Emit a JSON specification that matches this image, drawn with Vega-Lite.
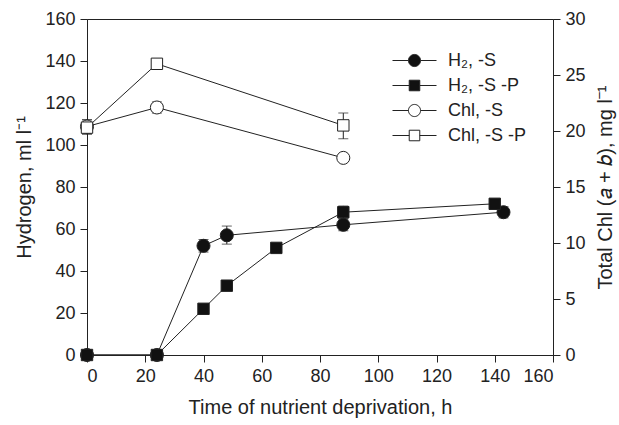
{
  "$schema": "https://vega.github.io/schema/vega-lite/v6.json",
  "width": 466,
  "height": 336,
  "autosize": "none",
  "padding": {"left": 87, "top": 19, "right": 66, "bottom": 70},
  "background": "white",
  "config": {
    "font": "Liberation Sans",
    "view": {"stroke": "#222", "strokeWidth": 1},
    "axis": {
      "grid": false,
      "labelFontSize": 18,
      "titleFontSize": 20,
      "titleFontWeight": "normal",
      "labelColor": "#222",
      "titleColor": "#222",
      "domainColor": "#222",
      "tickColor": "#222",
      "tickSize": 7,
      "labelPadding": 5
    },
    "legend": {
      "labelFontSize": 18,
      "labelColor": "#222",
      "labelFont": "Liberation Sans"
    }
  },
  "datasets": {
    "h2": [
      {"s": "H₂, -S", "t": 0, "v": 0},
      {"s": "H₂, -S", "t": 24, "v": 0},
      {"s": "H₂, -S", "t": 40, "v": 52, "lo": 49, "hi": 55},
      {"s": "H₂, -S", "t": 48, "v": 57, "lo": 52.8, "hi": 61.4},
      {"s": "H₂, -S", "t": 88, "v": 62, "lo": 59.2, "hi": 64.6},
      {"s": "H₂, -S", "t": 143, "v": 68, "lo": 65.3, "hi": 70.6},
      {"s": "H₂, -S -P", "t": 0, "v": 0},
      {"s": "H₂, -S -P", "t": 24, "v": 0},
      {"s": "H₂, -S -P", "t": 40, "v": 22},
      {"s": "H₂, -S -P", "t": 48, "v": 33},
      {"s": "H₂, -S -P", "t": 65, "v": 51},
      {"s": "H₂, -S -P", "t": 88, "v": 68, "lo": 65, "hi": 71},
      {"s": "H₂, -S -P", "t": 140, "v": 72, "lo": 70.5, "hi": 73.5}
    ],
    "chl": [
      {"s": "Chl, -S", "t": 0, "v": 20.4, "lo": 19.8, "hi": 21.0},
      {"s": "Chl, -S", "t": 24, "v": 22.1, "lo": 21.6, "hi": 22.6},
      {"s": "Chl, -S", "t": 88, "v": 17.6},
      {"s": "Chl, -S -P", "t": 0, "v": 20.3, "lo": 19.7, "hi": 21.0},
      {"s": "Chl, -S -P", "t": 24, "v": 26.0, "lo": 25.7, "hi": 26.3},
      {"s": "Chl, -S -P", "t": 88, "v": 20.5, "lo": 19.3, "hi": 21.6}
    ]
  },
  "encoding": {
    "fill": {"field": "s", "type": "nominal",
      "scale": {"domain": ["H₂, -S", "H₂, -S -P", "Chl, -S", "Chl, -S -P"], "range": ["#111111", "#111111", "#ffffff", "#ffffff"]},
      "legend": {
        "title": null,
        "orient": "none",
        "legendX": 316,
        "legendY": 30,
        "padding": 0,
        "symbolSize": 484,
        "labelOffset": 22,
        "rowPadding": 4,
        "symbolStrokeColor": "#222",
        "symbolStrokeWidth": 1,
        "symbolOpacity": 1,
        "encode": {
          "symbols": {
            "update": {
              "shape": {"signal": "test(/-P/, '' + (datum.label || datum.value || '')) ? 'M-2,0L-0.48,0M0.48,0L2,0M-0.48,-0.48L0.48,-0.48L0.48,0.48L-0.48,0.48Z' : 'M-2,0L-0.55,0M0.55,0L2,0M0.55,0C0.55,0.3,0.3,0.55,0,0.55C-0.3,0.55,-0.55,0.3,-0.55,0C-0.55,-0.3,-0.3,-0.55,0,-0.55C0.3,-0.55,0.55,-0.3,0.55,0Z'"},
              "stroke": {"value": "#222"},
              "strokeWidth": {"value": 1}
            }
          }
        }
      }
    }
  },
  "layer": [
    {
      "data": {"name": "h2"},
      "encoding": {
        "x": {"field": "t", "type": "quantitative",
              "scale": {"domain": [0, 160], "nice": false, "zero": false},
              "axis": {"values": [0, 20, 40, 60, 80, 100, 120, 140, 160], "title": "Time of nutrient deprivation, h", "titlePadding": 12}}
      },
      "layer": [
        {
          "mark": {"type": "rule", "color": "#222", "strokeWidth": 1},
          "transform": [{"filter": "isValid(datum.lo)"}],
          "encoding": {
            "y": {"field": "lo", "type": "quantitative"},
            "y2": {"field": "hi"},
            "fill": {"value": "#222"}
          }
        },
        {
          "mark": {"type": "tick", "orient": "horizontal", "color": "#222", "size": 10, "thickness": 1},
          "transform": [{"filter": "isValid(datum.lo)"}],
          "encoding": {"y": {"field": "lo", "type": "quantitative"}, "fill": {"value": "#222"}}
        },
        {
          "mark": {"type": "tick", "orient": "horizontal", "color": "#222", "size": 10, "thickness": 1},
          "transform": [{"filter": "isValid(datum.hi)"}],
          "encoding": {"y": {"field": "hi", "type": "quantitative"}, "fill": {"value": "#222"}}
        },
        {
          "mark": {"type": "line", "color": "#222", "strokeWidth": 1},
          "encoding": {
            "y": {"field": "v", "type": "quantitative"},
            "detail": {"field": "s"},
            "fill": {"value": "transparent"}
          }
        },
        {
          "mark": {"type": "point", "shape": "circle", "filled": true, "stroke": "#222", "strokeWidth": 1, "opacity": 1, "size": 170},
          "transform": [{"filter": "!test(/-P/, datum.s)"}],
          "encoding": {
            "y": {"field": "v", "type": "quantitative",
                  "scale": {"domain": [0, 160], "nice": false},
                  "axis": {"orient": "left", "values": [0, 20, 40, 60, 80, 100, 120, 140, 160], "title": "Hydrogen, ml l⁻¹", "titlePadding": 10}}
          }
        },
        {
          "mark": {"type": "point", "shape": "square", "filled": true, "stroke": "#222", "strokeWidth": 1, "opacity": 1, "size": 130},
          "transform": [{"filter": "test(/-P/, datum.s)"}],
          "encoding": {
            "y": {"field": "v", "type": "quantitative"}
          }
        }
      ]
    },
    {
      "data": {"name": "chl"},
      "encoding": {
        "x": {"field": "t", "type": "quantitative", "scale": {"domain": [0, 160], "nice": false, "zero": false}}
      },
      "layer": [
        {
          "mark": {"type": "rule", "color": "#222", "strokeWidth": 1},
          "transform": [{"filter": "isValid(datum.lo)"}],
          "encoding": {
            "y": {"field": "lo", "type": "quantitative"},
            "y2": {"field": "hi"},
            "fill": {"value": "#222"}
          }
        },
        {
          "mark": {"type": "tick", "orient": "horizontal", "color": "#222", "size": 10, "thickness": 1},
          "transform": [{"filter": "isValid(datum.lo)"}],
          "encoding": {"y": {"field": "lo", "type": "quantitative"}, "fill": {"value": "#222"}}
        },
        {
          "mark": {"type": "tick", "orient": "horizontal", "color": "#222", "size": 10, "thickness": 1},
          "transform": [{"filter": "isValid(datum.hi)"}],
          "encoding": {"y": {"field": "hi", "type": "quantitative"}, "fill": {"value": "#222"}}
        },
        {
          "mark": {"type": "line", "color": "#222", "strokeWidth": 1},
          "encoding": {
            "y": {"field": "v", "type": "quantitative"},
            "detail": {"field": "s"},
            "fill": {"value": "transparent"}
          }
        },
        {
          "mark": {"type": "point", "shape": "circle", "filled": true, "stroke": "#222", "strokeWidth": 1, "opacity": 1, "size": 170},
          "transform": [{"filter": "!test(/-P/, datum.s)"}],
          "encoding": {
            "y": {"field": "v", "type": "quantitative",
                  "scale": {"domain": [0, 30], "nice": false},
                  "axis": {"orient": "right", "values": [0, 5, 10, 15, 20, 25, 30], "title": "Total Chl (𝑎 + 𝑏), mg l⁻¹", "titleAngle": 270, "titleBaseline": "top", "titlePadding": 10}}
          }
        },
        {
          "mark": {"type": "point", "shape": "square", "filled": true, "stroke": "#222", "strokeWidth": 1, "opacity": 1, "size": 130},
          "transform": [{"filter": "test(/-P/, datum.s)"}],
          "encoding": {
            "y": {"field": "v", "type": "quantitative"}
          }
        }
      ]
    }
  ],
  "resolve": {"scale": {"y": "independent"}, "axis": {"y": "independent"}}
}
